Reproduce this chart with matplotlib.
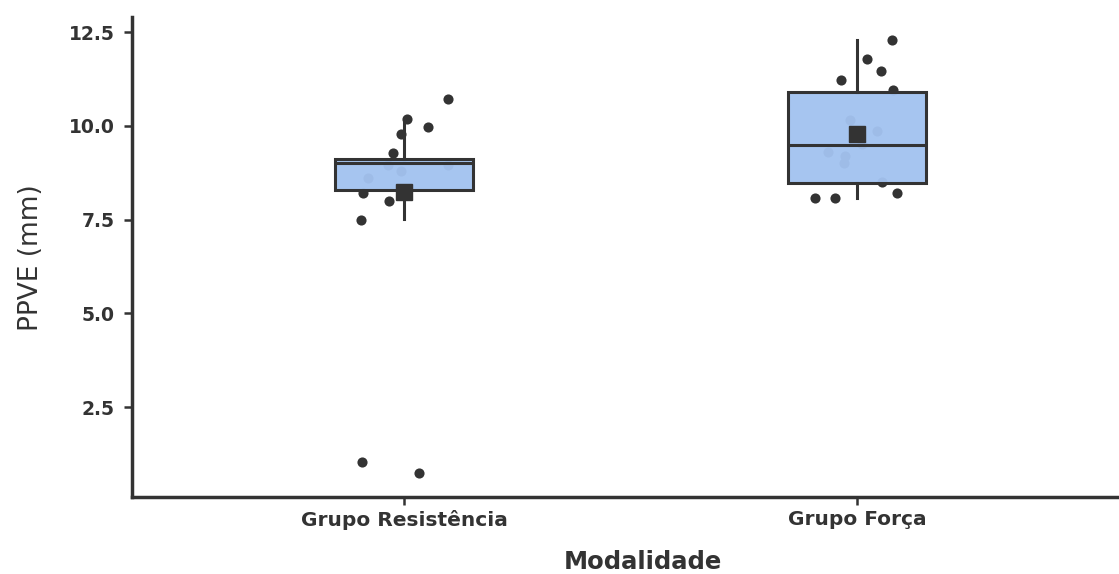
import numpy as np
import matplotlib.pyplot as plt

# Categorias do eixo x
grupos = ['Grupo Resistência', 'Grupo Força']

# PPVE (mm) individual de cada participante e o deslocamento horizontal (jitter) usado no gráfico
ppve_resistencia = [10.72, 10.19, 9.97, 9.79, 9.28, 8.95, 8.95, 8.80, 8.62,
                    8.20, 8.00, 7.48, 1.04, 0.75]
jitter_resistencia = [0.097, 0.007, 0.053, -0.007, -0.024, 0.097, -0.035,
                      -0.007, -0.079, -0.090, -0.033, -0.095, -0.093, 0.033]
ppve_forca = [12.28, 11.78, 11.46, 11.22, 10.96, 10.15, 9.86, 9.52, 9.31,
              9.20, 9.01, 8.50, 8.20, 8.09, 8.09]
jitter_forca = [0.077, 0.022, 0.053, -0.035, 0.079, -0.015, 0.044, 0.011,
                -0.064, -0.026, -0.029, 0.055, 0.088, -0.049, -0.093]

# Estatísticas do boxplot de cada grupo
q1 = [8.28, 8.49]
mediana = [9.02, 9.50]
q3 = [9.12, 10.90]
bigode_inf = [7.53, 8.09]
bigode_sup = [10.20, 12.28]
media = [8.24, 9.79]

cor_texto = '#333333'

fig = plt.figure(figsize=(11.19, 5.74), dpi=100)
ax = fig.add_axes([0.118, 0.134, 0.891, 0.836])

# Pontos individuais (ficam por baixo da caixa)
pos = np.arange(1, len(grupos) + 1)
for p, valores, jit in zip(pos, [ppve_resistencia, ppve_forca],
                           [jitter_resistencia, jitter_forca]):
    ax.plot(p + np.array(jit), valores, 'o', color=cor_texto, markersize=7.3,
            markeredgewidth=0, zorder=2)

# Caixas desenhadas a partir das estatísticas
stats = []
for i in range(len(grupos)):
    stats.append(dict(q1=q1[i], med=mediana[i], q3=q3[i], whislo=bigode_inf[i],
                      whishi=bigode_sup[i], mean=media[i], fliers=[]))

ax.bxp(stats, positions=pos, widths=0.305, patch_artist=True, showmeans=True,
       showcaps=False, showfliers=False, zorder=3,
       boxprops=dict(facecolor=(0.639, 0.765, 0.941, 0.96), edgecolor=cor_texto,
                     linewidth=2.2),
       medianprops=dict(color=cor_texto, linewidth=2.2),
       whiskerprops=dict(color=cor_texto, linewidth=2.2),
       meanprops=dict(marker='s', markerfacecolor=cor_texto, markeredgecolor=cor_texto,
                      markersize=11, zorder=5))

ax.set_xlim(0.4, 2.6)
ax.set_ylim(0.1, 12.9)
ax.set_xticks(pos, grupos)
ax.set_yticks([2.5, 5.0, 7.5, 10.0, 12.5])
ax.set_yticklabels(['2.5', '5.0', '7.5', '10.0', '12.5'])

for lab in ax.get_xticklabels():
    lab.set_fontsize(14.5)
    lab.set_fontweight('bold')
    lab.set_color(cor_texto)
for lab in ax.get_yticklabels():
    lab.set_fontsize(13.5)
    lab.set_fontweight('bold')
    lab.set_color(cor_texto)

ax.tick_params(axis='both', length=5.5, width=1.8, color=cor_texto)
ax.tick_params(axis='x', pad=4)
ax.tick_params(axis='y', pad=7)

ax.spines['top'].set_visible(False)
ax.spines['right'].set_visible(False)
for s in ['left', 'bottom']:
    ax.spines[s].set_linewidth(2.5)
    ax.spines[s].set_color(cor_texto)

ax.set_xlabel('Modalidade', fontsize=17.5, fontweight='bold', color=cor_texto)
ax.set_ylabel('PPVE (mm)', fontsize=19, color=cor_texto, labelpad=18)
ax.xaxis.set_label_coords(0.512, -0.11)

fig.savefig('out.png', dpi=100)
